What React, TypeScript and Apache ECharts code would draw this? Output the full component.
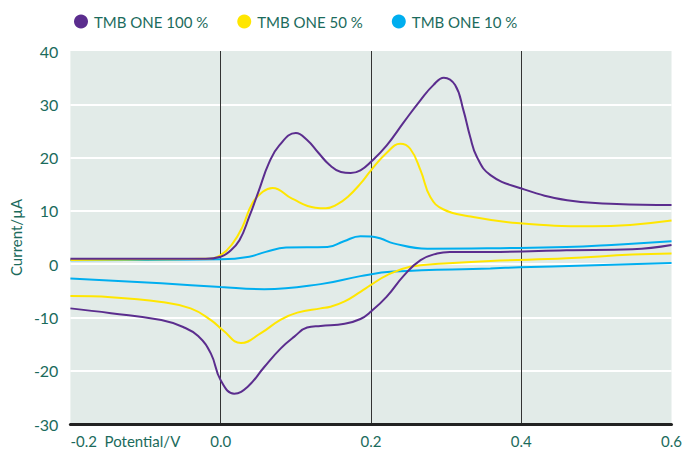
import React, { useEffect, useRef } from "react";
import * as echarts from "echarts";

const seriesNames = ["TMB ONE 100 %", "TMB ONE 50 %", "TMB ONE 10 %"];
const seriesColors = ["#5b2d8e", "#ffe600", "#00aeef"];

// potential (V), current (µA): forward scan and reverse scan
const purpleForward: [number, number][] = [
  [-0.2, 1.0], [-0.1, 1.0], [-0.02, 1.0], [0.0, 1.4], [0.011, 2.3], [0.025, 4.5],
  [0.038, 8.9], [0.051, 13.9], [0.064, 18.9], [0.078, 22.3], [0.1, 24.6], [0.115, 23.3],
  [0.13, 20.9], [0.145, 18.6], [0.16, 17.3], [0.173, 17.1], [0.186, 17.6], [0.2, 19.2],
  [0.221, 22.3], [0.244, 26.7], [0.266, 30.8], [0.283, 33.6], [0.297, 35.0], [0.312, 33.6],
  [0.323, 28.9], [0.332, 23.9], [0.341, 20.1], [0.359, 16.7], [0.398, 14.3], [0.461, 12.0],
  [0.527, 11.3], [0.6, 11.1],
];
const purpleReverse: [number, number][] = [
  [0.6, 3.6], [0.548, 2.8], [0.46, 2.6], [0.372, 2.3], [0.305, 2.3], [0.288, 2.0],
  [0.266, 0.75], [0.244, -2.1], [0.221, -6.1], [0.2, -8.9], [0.186, -10.3], [0.165, -11.2],
  [0.133, -11.6], [0.115, -11.9], [0.098, -13.6], [0.08, -15.8], [0.058, -19.3],
  [0.036, -23.0], [0.018, -24.3], [0.0, -21.8], [-0.013, -16.8], [-0.03, -13.5],
  [-0.05, -11.8], [-0.079, -10.5], [-0.146, -9.2], [-0.2, -8.3],
];
const yellowForward: [number, number][] = [
  [-0.2, 0.8], [-0.1, 0.9], [-0.02, 1.0], [0.0, 1.7], [0.016, 3.9], [0.029, 7.0],
  [0.042, 11.4], [0.056, 13.6], [0.069, 14.3], [0.095, 12.3], [0.126, 10.6],
  [0.14, 10.5], [0.155, 11.2], [0.169, 12.6], [0.186, 15.1], [0.2, 17.6], [0.221, 20.9],
  [0.239, 22.6], [0.252, 21.7], [0.266, 17.6], [0.279, 12.6], [0.296, 10.3], [0.33, 9.0],
  [0.394, 7.7], [0.495, 7.1], [0.6, 8.2],
];
const yellowReverse: [number, number][] = [
  [0.6, 2.0], [0.548, 1.8], [0.46, 1.1], [0.359, 0.6], [0.297, 0.1], [0.252, -0.5],
  [0.221, -2.1], [0.2, -3.9], [0.186, -5.2], [0.165, -7.0], [0.146, -8.0], [0.133, -8.3],
  [0.102, -9.1], [0.08, -10.4], [0.053, -13.0], [0.027, -14.8], [0.003, -12.4],
  [-0.013, -10.5], [-0.04, -8.3], [-0.079, -7.1], [-0.146, -6.2], [-0.2, -6.0],
];
const blueForward: [number, number][] = [
  [-0.2, 0.75], [-0.1, 0.8], [0.0, 0.9], [0.038, 1.4], [0.06, 2.3], [0.087, 3.1],
  [0.142, 3.2], [0.164, 4.3], [0.186, 5.25], [0.2, 5.2], [0.213, 4.8], [0.23, 3.9],
  [0.275, 2.9], [0.372, 3.0], [0.46, 3.2], [0.52, 3.6], [0.6, 4.3],
];
const blueReverse: [number, number][] = [
  [0.6, 0.2], [0.398, -0.6], [0.359, -0.8], [0.23, -1.4], [0.186, -2.25], [0.133, -3.75],
  [0.058, -4.7], [0.0, -4.3], [-0.079, -3.6], [-0.2, -2.7],
];

const xAxisName = "Potential/V";
const yAxisName = "Current/µA";

const textColor = "#1b6b5c";
const font = "Lato, 'Open Sans', sans-serif";

export default function App() {
  const ref = useRef<HTMLDivElement>(null);
  useEffect(() => {
    if (!ref.current) return;
    const chart = echarts.init(ref.current, undefined, { renderer: "svg" });
    const branches = [
      [purpleForward, purpleReverse],
      [yellowForward, yellowReverse],
      [blueForward, blueReverse],
    ];
    const series: any[] = [];
    seriesNames.forEach((name, i) => {
      branches[i].forEach((data) => {
        series.push({
          name,
          type: "line",
          data,
          smooth: 0.45,
          showSymbol: false,
          symbol: "circle",
          color: seriesColors[i],
          lineStyle: { color: seriesColors[i], width: 2 },
          z: 3 - i,
        });
      });
    });
    chart.setOption({
      animation: false,
      backgroundColor: "#ffffff",
      textStyle: { fontFamily: font },
      legend: {
        top: 9,
        left: 69,
        itemWidth: 14,
        itemHeight: 14,
        itemGap: 29,
        icon: "circle",
        textStyle: { color: textColor, fontSize: 15, fontFamily: font, padding: [0, 0, 0, 1] },
        data: seriesNames,
      },
      grid: {
        left: 69,
        right: 13,
        top: 51,
        bottom: 31,
        show: true,
        backgroundColor: "#e2ebe8",
        borderWidth: 0,
      },
      xAxis: {
        type: "value",
        min: -0.2,
        max: 0.6,
        interval: 0.2,
        axisLine: { show: true, onZero: false, lineStyle: { color: "#222", width: 3 } },
        axisTick: { show: false },
        splitLine: {
          show: true,
          showMinLine: false,
          showMaxLine: false,
          lineStyle: { color: "#333", width: 1 },
        },
        axisLabel: {
          color: textColor,
          fontSize: 15,
          margin: 9,
          alignMinLabel: "left",
          formatter: (v: number) =>
            Math.abs(v + 0.2) < 1e-9 ? "-0.2  " + xAxisName : v.toFixed(1),
        },
      },
      yAxis: {
        type: "value",
        min: -30,
        max: 40,
        interval: 10,
        name: yAxisName,
        nameLocation: "middle",
        nameGap: 45,
        nameTextStyle: { color: textColor, fontSize: 15, fontFamily: font },
        axisLine: { show: false },
        axisTick: { show: false },
        splitLine: {
          show: true,
          showMaxLine: false,
          showMinLine: false,
          lineStyle: { color: "#ffffff", width: 2 },
        },
        axisLabel: { color: textColor, fontSize: 16, margin: 12 },
      },
      series,
    });
    return () => chart.dispose();
  }, []);
  return (
    <div
      ref={ref}
      style={{ position: "fixed", left: 0, top: 0, width: 685, height: 455 }}
    />
  );
}
